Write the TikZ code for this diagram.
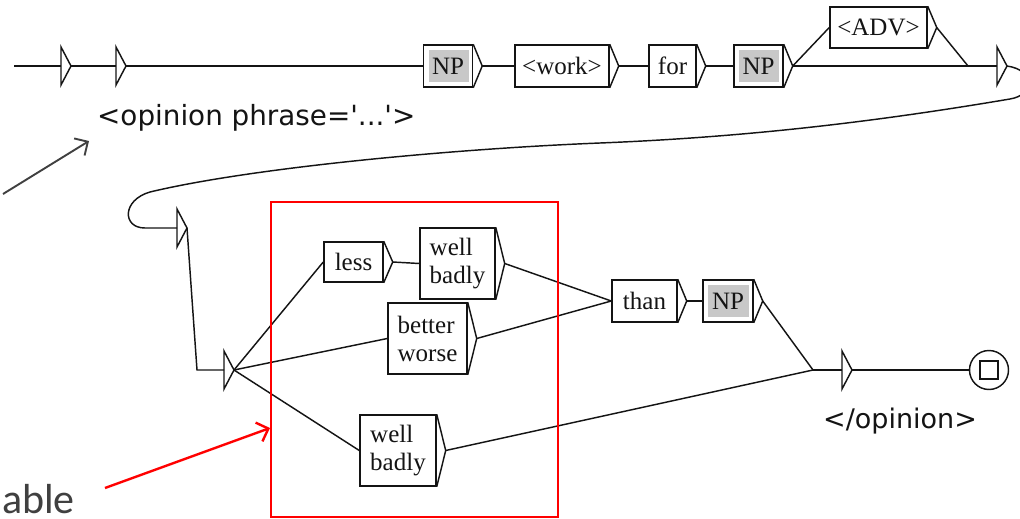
\documentclass[tikz,border=0pt]{standalone}
\usepackage{fontspec}
\newfontfamily\uisans{DejaVu Sans}
\newfontfamily\slidefont{Carlito}
\newfontfamily\boxfont{Liberation Serif}
\usetikzlibrary{calc,arrows.meta}
\definecolor{ink}{HTML}{141414}
\definecolor{npgray}{HTML}{C8C8C8}
\definecolor{annot}{HTML}{404040}
\definecolor{redbox}{HTML}{FF0000}
\newcommand{\mkTip}[1]{\draw[ln] (#1.north east) -- ($(#1.east)+(9,0)$) coordinate (#1t) -- (#1.south east);}
\newcommand{\mkTri}[3]{\coordinate (#1) at (#2,#3);
  \draw[ln,line join=miter] (#2,{#3-19}) -- (#2,{#3+19}) -- ({#2+10},#3) coordinate (#1t) -- cycle;}
\begin{document}
\begin{tikzpicture}[x=1pt,y=-1pt,
  ln/.style={draw=ink,line width=1.45pt},
  gbox/.style={ln,rectangle,inner sep=0pt,minimum height=42pt,
    font=\boxfont\fontsize{25}{28}\selectfont,align=left,text=ink},
  np/.style={gbox,path picture={\fill[npgray]
    ($(path picture bounding box.south west)+(5,-5)$) rectangle
    ($(path picture bounding box.north east)+(-4,5)$);}},
  sanslab/.style={inner sep=0pt,text=ink,font=\uisans\fontsize{27}{32}\selectfont}]
\fill[white] (0,0) rectangle (1020,519);
\useasboundingbox (0,0) rectangle (1020,519);

% boxes
\node[np,minimum width=49pt] (np1) at (448,66) {NP};
\node[gbox,minimum width=94pt] (work) at (562,66) {<work>};
\node[gbox,minimum width=47pt] (for) at (672.5,66) {for};
\node[np,minimum width=49pt] (np2) at (758.5,66) {NP};
\node[gbox,minimum width=97pt,minimum height=41pt] (adv) at (878.5,27.5) {<ADV>};
\node[gbox,minimum width=59pt,minimum height=40pt] (less) at (353.5,262) {less};
\node[gbox,minimum width=75pt,minimum height=71pt] (wb1) at (457.5,263.5) {well\\badly};
\node[gbox,minimum width=79pt,minimum height=71pt] (bw) at (427.5,338.5) {better\\worse};
\node[gbox,minimum width=76pt,minimum height=71pt] (wb2) at (398,450.5) {well\\badly};
\node[gbox,minimum width=65pt] (than) at (644.5,301) {than};
\node[np,minimum width=50pt] (np3) at (728,301) {NP};
\foreach \n in {np1,work,for,np2,adv,less,wb1,bw,wb2,than,np3}{\mkTip{\n}}

% empty states
\mkTri{s1}{61}{66}
\mkTri{s2}{116}{66}
\mkTri{s3}{997}{66}
\mkTri{s4}{177}{228}
\mkTri{s5}{224}{370}
\mkTri{s6}{842}{370}

\coordinate (in) at (14,66);
\coordinate (j1) at (968,66);
\coordinate (j2) at (813,370);
\coordinate (k1) at (197,370);

\node[circle,ln,fill=white,minimum size=39pt,inner sep=0pt] (fin) at (989,370) {};
\node[ln,minimum size=18pt,inner sep=0pt] (finsq) at (fin.center) {};

% connectors
\draw[ln] (in) -- (s1);
\draw[ln] (s1t) -- (s2);
\draw[ln] (s2t) -- (np1.west);
\draw[ln] (np1t) -- (work.west);
\draw[ln] (workt) -- (for.west);
\draw[ln] (fort) -- (np2.west);
\draw[ln] (np2t) -- (adv.west);
\draw[ln] (np2t) -- (j1) -- (s3);
\draw[ln] (advt) -- (j1);
\draw[ln] (s3t) .. controls (1035,70) and (1035,95) .. (1010,99)
  .. controls (880,121) and (750,137) .. (600,143)
  .. controls (450,149) and (250,168) .. (150,192)
  .. controls (122,200) and (122,228) .. (145,228) -- (s4);
\draw[ln] (s4t) -- (k1) -- (s5);
\draw[ln] (s5t) -- (less.west);
\draw[ln] (s5t) -- (bw.west);
\draw[ln] (s5t) -- (wb2.west);
\draw[ln] (lesst) -- (wb1.west);
\draw[ln] (wb1t) -- (than.west);
\draw[ln] (bwt) -- (than.west);
\draw[ln] (thant) -- (np3.west);
\draw[ln] (np3t) -- (j2);
\draw[ln] (wb2t) -- (j2);
\draw[ln] (j2) -- (s6);
\draw[ln] (s6t) -- (fin.west);

% labels
\node[sanslab,anchor=west,font=\uisans\fontsize{27.8}{32}\selectfont] (lab1) at (97,118) {<opinion phrase=\textquotesingle...\textquotesingle>};
\node[sanslab] (lab2) at (900,421) {</opinion>};
\node[anchor=base west,inner sep=0pt,text=annot,font=\slidefont\fontsize{42}{48}\selectfont] (able) at (2,513) {able};

% annotation box and arrows
\node[draw=redbox,line width=1.3pt,minimum width=287pt,minimum height=315pt,inner sep=0pt] (sel) at (414.5,359.5) {};
\coordinate (ga0) at (3,194);
\coordinate (ga1) at (89,141);
\draw[annot,line width=1.9pt,-{Straight Barb[length=10pt,width=20pt]}] (ga0) -- (ga1);
\coordinate (ra0) at (105,488);
\coordinate (ra1) at (270,428);
\draw[redbox,line width=2.4pt,-{Straight Barb[length=10pt,width=20pt]}] (ra0) -- (ra1);
\end{tikzpicture}
\end{document}
